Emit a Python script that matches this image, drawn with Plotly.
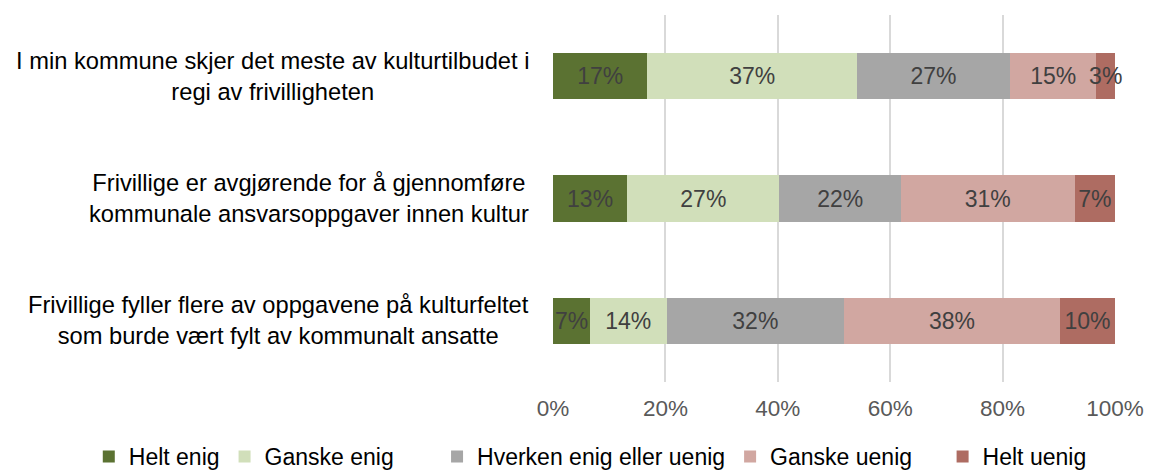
import plotly.graph_objects as go

categories = [
    "I min kommune skjer det meste av kulturtilbudet i<br>regi av frivilligheten",
    "Frivillige er avgjørende for å gjennomføre<br>kommunale ansvarsoppgaver innen kultur",
    "Frivillige fyller flere av oppgavene på kulturfeltet<br>som burde vært fylt av kommunalt ansatte",
]
series_names = ["Helt enig", "Ganske enig", "Hverken enig eller uenig", "Ganske uenig", "Helt uenig"]
helt_enig = [16.8, 13.2, 6.6]
ganske_enig = [37.3, 27.1, 13.6]
hverken = [27.2, 21.6, 31.6]
ganske_uenig = [15.4, 30.9, 38.4]
helt_uenig = [3.3, 7.2, 9.8]
tick_vals = [0, 20, 40, 60, 80, 100]
tick_text = ["0%", "20%", "40%", "60%", "80%", "100%"]

colors = ["#5B7232", "#D1DFBA", "#A6A6A6", "#D1A7A1", "#AE6C62"]
values = [helt_enig, ganske_enig, hverken, ganske_uenig, helt_uenig]
# extra legend spacing (Excel spreads legend entries unevenly)
legend_pad = [0, 6, 0, 4, 0]

FONT = "Liberation Sans, Arial, sans-serif"
FS = 23

fig = go.Figure()
ypos = list(range(len(categories)))
for name, vals, col, pad in zip(series_names, values, colors, legend_pad):
    fig.add_trace(go.Bar(
        y=ypos, x=vals, name=name + "\u00a0" * pad, orientation="h",
        marker=dict(color=col, line=dict(width=0)),
        texttemplate="%{x:.0f}%", textposition="inside",
        insidetextanchor="middle", textangle=0,
        textfont=dict(family=FONT, size=FS, color="#404040"),
        constraintext="none", cliponaxis=False,
        hoverinfo="skip",
    ))

for i, cat in enumerate(categories):
    fig.add_annotation(
        x=0, xref="paper", y=i, yref="y", text=cat, showarrow=False,
        xanchor="right", yanchor="middle", align="center", xshift=-22,
        font=dict(family=FONT, size=23.7, color="#000000"),
    )

fig.update_layout(
    width=1153, height=473,
    margin=dict(l=553, r=38, t=15, b=91, autoexpand=False),
    barmode="stack", bargap=0.62,
    paper_bgcolor="white", plot_bgcolor="white",
    font=dict(family=FONT, size=FS),
    xaxis=dict(range=[0, 100], tickvals=tick_vals, ticktext=tick_text,
               showgrid=True, gridcolor="#D9D9D9", gridwidth=2,
               zeroline=False, showline=False, ticks="",
               ticklabelstandoff=10,
               tickfont=dict(family=FONT, size=22.5, color="#595959")),
    yaxis=dict(range=[2.5, -0.5], showticklabels=False, showgrid=False,
               zeroline=False, showline=False, ticks=""),
    legend=dict(orientation="h", xref="paper", x=-0.826, xanchor="left",
                yref="paper", y=-0.203, yanchor="middle",
                font=dict(family=FONT, size=FS, color="#000000"),
                itemwidth=30, traceorder="normal", tracegroupgap=0),
    showlegend=True,
)

fig.write_html("out.html")
